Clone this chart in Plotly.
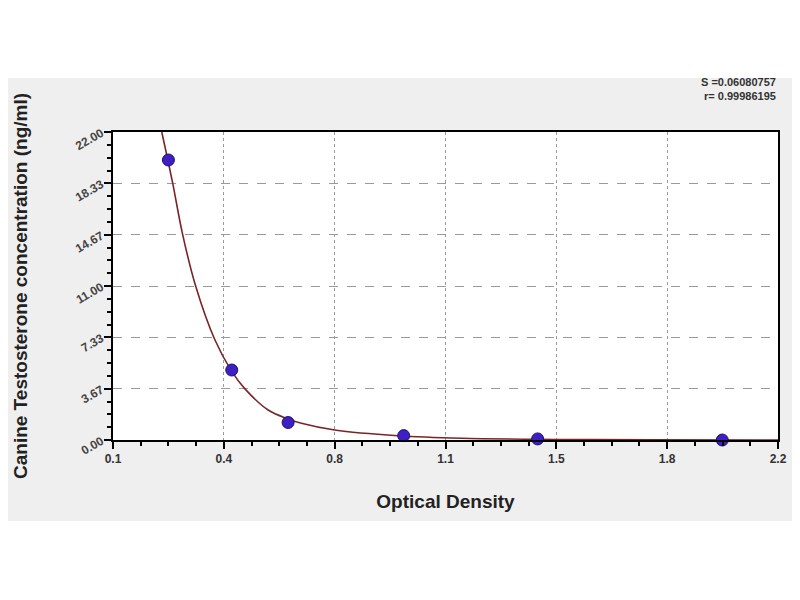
import numpy as np
import plotly.graph_objects as go

# standard points (OD vs concentration)
od = [0.275, 0.475, 0.653, 1.018, 1.441, 2.024]
conc = [20.0, 5.0, 1.25, 0.313, 0.078, 0.0]

# fitted curve
curve_od = [0.254, 0.288, 0.320, 0.361, 0.422, 0.475, 0.516, 0.59, 0.653, 0.695, 0.8, 1.0, 1.2, 1.5, 1.8, 2.2]
curve_conc = [22.0, 18.4, 14.67, 11.0, 7.14, 4.9, 3.67, 2.14, 1.5, 1.19, 0.71, 0.3, 0.12, 0.04, 0.01, 0.0]

x_ticks = [0.1, 0.45, 0.8, 1.15, 1.5, 1.85, 2.2]
x_labels = ['0.1', '0.4', '0.8', '1.1', '1.5', '1.8', '2.2']
y_ticks = [0, 22/6, 22/3, 11, 44/3, 55/3, 22]
y_labels = ['0.00', '3.67', '7.33', '11.00', '14.67', '18.33', '22.00']

fit_text = ['S =0.06080757', 'r= 0.99986195']

x_minor = [v for v in np.linspace(0.1, 2.2, 25) if min(abs(v - t) for t in x_ticks) > 1e-6]
y_minor = [v for v in np.linspace(0, 22, 25) if min(abs(v - t) for t in y_ticks) > 1e-6]

fig = go.Figure()
fig.add_trace(go.Scatter(
    x=curve_od, y=curve_conc, mode='lines',
    line=dict(color='#7a2525', width=1.6, shape='spline', smoothing=1.0),
    cliponaxis=True, hoverinfo='skip'
))
fig.add_trace(go.Scatter(
    x=od, y=conc, mode='markers',
    marker=dict(color='#3d1fc4', size=12, line=dict(color='#1e1070', width=1)),
    cliponaxis=False
))

FONT = 'Liberation Sans, Arial'

fig.update_layout(
    width=800, height=600,
    paper_bgcolor='white', plot_bgcolor='white',
    showlegend=False,
    margin=dict(l=103, r=30, t=124, b=168),
    xaxis=dict(
        range=[0.1, 2.2], tickmode='array', tickvals=x_ticks, ticktext=x_labels,
        ticks='outside', ticklen=7, tickwidth=2, tickcolor='black',
        minor=dict(tickmode='array', tickvals=x_minor, ticks='outside', ticklen=4, tickwidth=2, tickcolor='black'),
        showgrid=True, gridcolor='#9a9a9a', griddash='dot', gridwidth=1,
        showline=True, linecolor='black', linewidth=2, mirror=True,
        zeroline=False, tickfont=dict(family=FONT, size=12, color='#333333', weight='bold'),
        title=dict(text='Optical Density', font=dict(family=FONT, size=19, color='#222222', weight='bold'), standoff=29),
    ),
    yaxis=dict(
        range=[0, 22], tickmode='array', tickvals=y_ticks, ticktext=y_labels,
        ticks='outside', ticklen=7, tickwidth=2, tickcolor='black',
        minor=dict(tickmode='array', tickvals=y_minor, ticks='outside', ticklen=4, tickwidth=2, tickcolor='black'),
        showgrid=True, gridcolor='#9a9a9a', griddash='dash', gridwidth=1,
        showline=True, linecolor='black', linewidth=2, mirror=True,
        zeroline=False, tickfont=dict(family=FONT, size=12, color='#444444', weight='bold'),
        tickangle=-30,
        title=dict(text='Canine Testosterone concentration (ng/ml)', font=dict(family=FONT, size=19, color='#222222', weight='bold'), standoff=40),
    ),
    shapes=[
        # grey backdrop of the original image, then the white plot area on top
        dict(type='rect', xref='paper', yref='paper', x0=-0.2, x1=1.1, y0=-0.263, y1=1.175,
             fillcolor='#efefef', line=dict(width=0), layer='below'),
        dict(type='rect', xref='paper', yref='paper', x0=0, x1=1, y0=0, y1=1,
             fillcolor='white', line=dict(width=0), layer='below'),
    ],
)

fig.add_annotation(
    text='<br>'.join(fit_text), xref='paper', yref='paper', x=1.0, y=1.0, yshift=28,
    xanchor='right', yanchor='bottom', align='right', showarrow=False,
    font=dict(family=FONT, size=11, color='#333333', weight='bold')
)

fig.write_html('out.html')
